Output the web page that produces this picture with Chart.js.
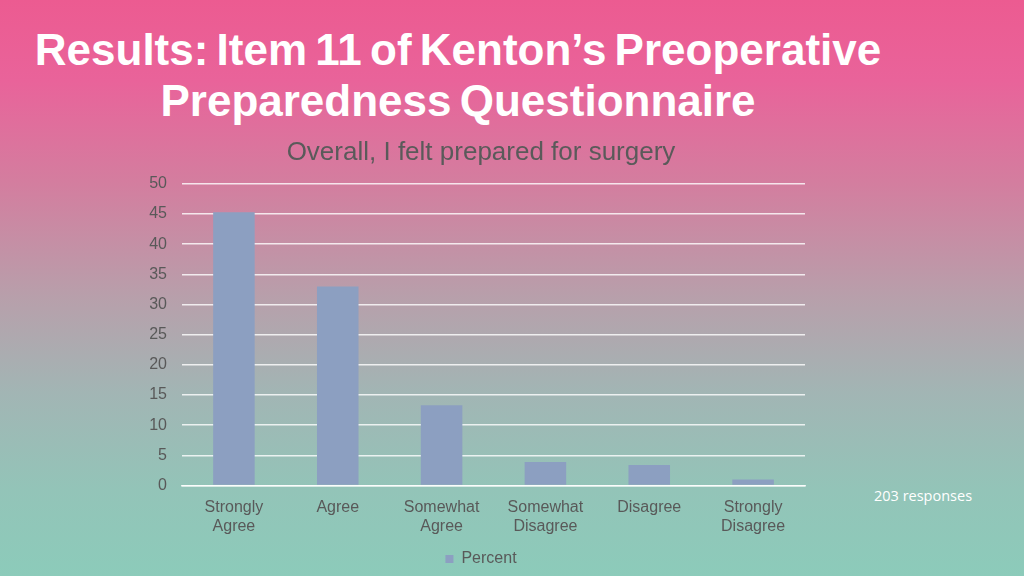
<!DOCTYPE html>
<html>
<head>
<meta charset="utf-8">
<script src="https://cdn.jsdelivr.net/npm/chart.js@4.4.0/dist/chart.umd.min.js"></script>
<style>
  html, body { margin: 0; padding: 0; }
  body {
    width: 1024px; height: 576px; overflow: hidden; position: relative;
    background: linear-gradient(to bottom, #ec5b91 0%, #e9639a 14%, #d37e9f 32%, #b7a0ab 52%, #a2b5b4 68%, #93c4b8 85%, #8ccbba 100%);
    font-family: "Liberation Sans", Arial, sans-serif;
  }
  #title {
    position: absolute; left: 0; width: 916px; top: 24px;
    text-align: center; color: #ffffff; font-weight: bold;
    font-size: 44px; line-height: 51px; letter-spacing: 0px; word-spacing: -4px;
  }
  #resp {
    position: absolute; left: 874px; top: 486px; color: #ffffff;
    font-family: "Open Sans", sans-serif; font-size: 14.5px;
  }
  #wrap { position: absolute; left: 130px; top: 135px; width: 702px; height: 442px; }
</style>
</head>
<body>
<div id="title">Results: Item 11 of Kenton’s Preoperative<br>Preparedness Questionnaire</div>
<div id="resp">203 responses</div>
<div id="wrap"><canvas id="c"></canvas></div>
<script>
const categories = [["Strongly", "Agree"], "Agree", ["Somewhat", "Agree"], ["Somewhat", "Disagree"], "Disagree", ["Strongly", "Disagree"]];
const percentValues = [45.3, 33.0, 13.3, 3.9, 3.4, 1.0];
const seriesName = "Percent";
const chartTitle = "Overall, I felt prepared for surgery";

new Chart(document.getElementById('c'), {
  type: 'bar',
  data: {
    labels: categories,
    datasets: [{
      label: seriesName,
      data: percentValues,
      backgroundColor: '#8c9fc1',
      borderWidth: 0,
      categoryPercentage: 1.0,
      barPercentage: 0.4
    }]
  },
  options: {
    responsive: true,
    maintainAspectRatio: false,
    animation: false,
    layout: { padding: { left: 0, right: 0, top: 0, bottom: 0 } },
    plugins: {
      title: {
        display: true, text: chartTitle, color: '#5a5a5a',
        font: { family: 'Liberation Sans', size: 26, weight: 'normal' },
        padding: { top: 2, bottom: 15.6 }
      },
      legend: {
        display: true, position: 'bottom',
        labels: {
          color: '#595959', boxWidth: 8, boxHeight: 8,
          font: { family: 'Liberation Sans', size: 16 },
          padding: 3
        }
      },
      tooltip: { enabled: false }
    },
    scales: {
      x: {
        grid: { display: false, drawTicks: false },
        border: { display: true, color: 'rgba(255,255,255,0.8)', width: 1.5 },
        ticks: { color: '#595959', font: { family: 'Liberation Sans', size: 16 }, padding: 12, maxRotation: 0 }
      },
      y: {
        min: 0, max: 50,
        afterFit: (s) => { s.width = 52; },
        grid: { color: 'rgba(255,255,255,0.8)', lineWidth: 1.5, drawTicks: false },
        border: { display: false },
        ticks: { stepSize: 5, color: '#595959', font: { family: 'Liberation Sans', size: 16 }, padding: 15 }
      },
      yRightSpacer: {
        type: 'linear', position: 'right', min: 0, max: 50, display: true,
        afterFit: (s) => { s.width = 27; },
        grid: { display: false, drawTicks: false },
        border: { display: false },
        ticks: { display: false }
      }
    }
  }
});
</script>
</body>
</html>
